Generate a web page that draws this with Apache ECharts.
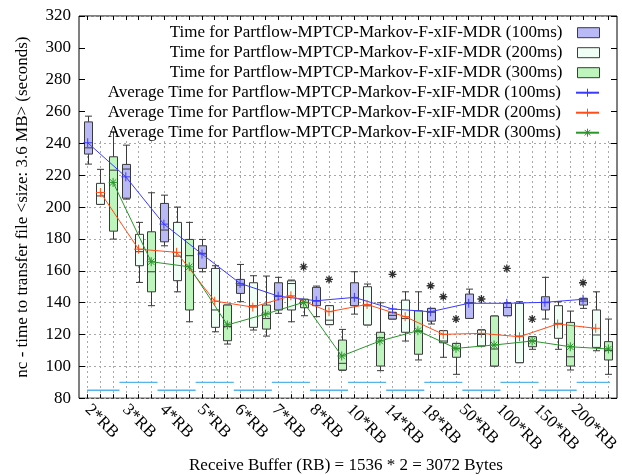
<!DOCTYPE html>
<html>
<head>
<meta charset="utf-8">
<script src="https://cdn.jsdelivr.net/npm/echarts@6/dist/echarts.min.js"></script>
<style>
  html, body { margin: 0; padding: 0; background: #fff; }
  #chart { width: 622px; height: 475px; }
</style>
</head>
<body>
<div id="chart"></div>
<script>
// Receive-buffer multiples, one group of three runs per multiple
const groups = ['2*RB', '3*RB', '4*RB', '5*RB', '6*RB', '7*RB', '8*RB', '10*RB', '14*RB', '18*RB', '50*RB', '100*RB', '150*RB', '200*RB'];

const boxNames = [
  'Time for Partflow-MPTCP-Markov-F-xIF-MDR (100ms)',
  'Time for Partflow-MPTCP-Markov-F-xIF-MDR (200ms)',
  'Time for Partflow-MPTCP-Markov-F-xIF-MDR (300ms)'
];
const meanNames = [
  'Average Time for Partflow-MPTCP-Markov-F-xIF-MDR (100ms)',
  'Average Time for Partflow-MPTCP-Markov-F-xIF-MDR (200ms)',
  'Average Time for Partflow-MPTCP-Markov-F-xIF-MDR (300ms)'
];

// Box statistics per group: [min, Q1, median, Q3, max] (seconds)
const box100 = [
  [227.0, 233.3, 237.2, 253.5, 257.1],
  [205.0, 205.6, 223.9, 226.8, 238.9],
  [175.7, 178.2, 185.6, 202.3, 207.5],
  [159.4, 161.5, 171.0, 175.7, 179.7],
  [140.6, 145.8, 151.0, 154.6, 164.0],
  [133.3, 135.4, 144.0, 152.5, 155.9],
  [131.2, 138.1, 141.0, 149.6, 150.4],
  [132.8, 138.1, 143.0, 152.5, 159.4],
  [129.7, 129.7, 132.0, 133.9, 133.9],
  [126.6, 128.4, 134.0, 136.4, 136.4],
  [130.1, 130.1, 140.0, 145.4, 148.5],
  [131.8, 131.8, 137.0, 139.6, 140.0],
  [129.7, 135.4, 140.0, 143.7, 155.9],
  [136.4, 138.5, 141.0, 142.7, 142.7]
];
const box200 = [
  [201.7, 201.7, 207.0, 214.9, 223.7],
  [152.7, 163.2, 172.0, 182.9, 190.4],
  [146.8, 153.8, 169.2, 190.4, 200.0],
  [121.7, 124.5, 135.4, 161.5, 163.2],
  [122.8, 124.5, 138.0, 152.5, 156.9],
  [128.0, 135.4, 152.0, 153.7, 154.2],
  [126.2, 126.2, 129.0, 138.1, 138.1],
  [126.0, 126.0, 138.0, 150.0, 151.7],
  [115.9, 121.4, 130.0, 141.6, 146.8],
  [105.7, 114.8, 115.9, 122.4, 122.4],
  [112.8, 112.8, 120.0, 122.8, 123.0],
  [102.3, 102.3, 119.0, 139.6, 140.6],
  [110.7, 117.6, 127.0, 138.1, 140.6],
  [109.8, 111.9, 119.7, 135.4, 146.8]
];
const box300 = [
  [179.9, 184.9, 223.2, 231.6, 247.3],
  [138.1, 146.8, 159.4, 184.5, 209.0],
  [128.0, 135.4, 169.5, 179.7, 190.4],
  [114.0, 116.1, 125.0, 138.5, 138.5],
  [119.0, 123.4, 130.0, 138.5, 156.7],
  [131.8, 136.8, 140.0, 142.1, 142.1],
  [97.5, 97.7, 101.9, 116.5, 123.2],
  [97.3, 100.2, 118.0, 121.4, 139.9],
  [104.0, 107.6, 122.0, 134.9, 146.8],
  [95.0, 105.7, 111.0, 114.4, 114.4],
  [100.2, 100.2, 110.9, 131.6, 131.6],
  [110.7, 112.3, 116.0, 118.6, 118.6],
  [97.7, 100.2, 106.0, 127.6, 134.7],
  [95.0, 104.0, 110.0, 115.5, 129.7]
];

// Average transfer time per group (seconds)
const mean100 = [240.4, 219.0, 189.3, 170.5, 152.1, 144.1, 141.2, 143.3, 136.0, 134.3, 139.6, 139.6, 140.2, 142.1];
const mean200 = [209.2, 173.6, 171.6, 141.0, 137.2, 144.3, 134.3, 138.9, 131.2, 120.1, 120.7, 118.6, 126.6, 123.9];
const mean300 = [215.5, 165.7, 162.5, 126.0, 132.8, 140.2, 106.5, 115.9, 122.4, 111.3, 113.4, 115.9, 112.3, 110.9];

// Outliers: [group index, run index (0=100ms, 1=200ms, 2=300ms), seconds]
const outliers = [
  [5, 2, 162.5], [6, 1, 154.6], [8, 0, 157.8], [9, 0, 150.6], [9, 1, 143.7],
  [9, 2, 129.7], [10, 1, 142.3], [11, 0, 161.5], [11, 2, 129.7], [13, 0, 152.5]
];

// Group marker bars along the bottom, alternating height
const bandLevels = [85, 90, 85, 90, 85, 90, 85, 90, 85, 90, 85, 90, 85, 90];

const yMin = 80, yMax = 320, yStep = 20;

const yTitle = 'nc - time to transfer file <size: 3.6 MB> (seconds)';
const xTitle = 'Receive Buffer (RB) = 1536 * 2 = 3072 Bytes';

// ---------------------------------------------------------------
const FONT = 'Liberation Serif';
const FS = 17;
const boxFill = ['#b9b9f7', '#f0fff6', '#bdf5bd'];
const lineColor = ['#3a3aff', '#ff4d1a', '#2a962a'];
const edge = '#3a3a3a';
const plusPath = 'path://M0,5L10,5M5,0L5,10';
const starPath = 'path://M0,5L10,5M5,0L5,10M1.5,1.5L8.5,8.5M8.5,1.5L1.5,8.5';

// run s of group g sits at slot 3g + s + 1 on the x scale
const slot = (g, s) => 3 * g + s + 1;
const slotCount = 3 * groups.length;

function renderBox(params, api) {
  const x = api.value(0);
  const lo = api.coord([x, api.value(1)]);
  const q1 = api.coord([x, api.value(2)]);
  const md = api.coord([x, api.value(3)]);
  const q3 = api.coord([x, api.value(4)]);
  const hi = api.coord([x, api.value(5)]);
  const cx = Math.round(lo[0]) + 0.5, hw = 4, cw = 3.5;
  const st = { stroke: edge, lineWidth: 1 };
  return {
    type: 'group',
    children: [
      { type: 'line', shape: { x1: cx, y1: hi[1], x2: cx, y2: q3[1] }, style: st },
      { type: 'line', shape: { x1: cx, y1: q1[1], x2: cx, y2: lo[1] }, style: st },
      { type: 'line', shape: { x1: cx - cw, y1: hi[1], x2: cx + cw, y2: hi[1] }, style: st },
      { type: 'line', shape: { x1: cx - cw, y1: lo[1], x2: cx + cw, y2: lo[1] }, style: st },
      { type: 'rect', shape: { x: cx - hw, y: q3[1], width: 2 * hw, height: q1[1] - q3[1] },
        style: { fill: api.visual('color'), stroke: edge, lineWidth: 1 } },
      { type: 'line', shape: { x1: cx - hw, y1: md[1], x2: cx + hw, y2: md[1] }, style: st }
    ]
  };
}

const boxSets = [box100, box200, box300];
const meanSets = [mean100, mean200, mean300];

const boxSeries = boxSets.map((set, s) => ({
  type: 'custom',
  name: boxNames[s],
  xAxisIndex: 0, yAxisIndex: 0,
  renderItem: renderBox,
  itemStyle: { color: boxFill[s] },
  encode: { x: 0, y: [1, 2, 3, 4, 5] },
  data: set.map((b, g) => [slot(g, s)].concat(b)),
  z: 2
}));

const meanSeries = meanSets.map((set, s) => ({
  type: 'line',
  name: meanNames[s],
  xAxisIndex: 0, yAxisIndex: 0,
  data: set.map((v, g) => [slot(g, s), v]),
  symbol: s === 2 ? starPath : plusPath,
  symbolSize: 9,
  showSymbol: true,
  lineStyle: { color: lineColor[s], width: 1 },
  itemStyle: { color: lineColor[s], borderColor: lineColor[s], borderWidth: 1 },
  clip: false,
  z: 4
}));

const outlierSeries = {
  type: 'scatter',
  name: 'outliers',
  xAxisIndex: 0, yAxisIndex: 0,
  data: outliers.map(o => [slot(o[0], o[1]), o[2]]),
  symbol: starPath,
  symbolSize: 8,
  itemStyle: { color: '#000', borderColor: '#000', borderWidth: 1.3 },
  z: 4
};

const bandData = [];
bandLevels.forEach((lv, g) => {
  bandData.push([slot(g, 0) - 0.5, lv], [slot(g, 2) + 0.5, lv], [slot(g, 2) + 0.5, null]);
});
const bandSeries = {
  type: 'line',
  name: 'bands',
  xAxisIndex: 0, yAxisIndex: 0,
  data: bandData,
  symbol: 'none',
  connectNulls: false,
  lineStyle: { color: '#56b4e9', width: 1.3 },
  clip: false,
  z: 2
};

const chart = echarts.init(document.getElementById('chart'), null, { renderer: 'canvas' });

const W = 622, H = 475;
const frameL = 79, frameR = 617, frameT = 16, frameB = 398.2;
const firstSlotX = 87.7, lastSlotX = 608.4;
const slotW = (lastSlotX - firstSlotX) / (slotCount - 1);
const lastLabelX = firstSlotX + slotW * slot(groups.length - 1, 0) - slotW;

const txt = { fontFamily: FONT, fontSize: FS, color: '#000' };
const hidden = { show: false };

chart.setOption({
  animation: false,
  backgroundColor: '#fff',
  grid: [
    // data grid: slot 1 .. slot 42
    { left: firstSlotX, right: W - lastSlotX, top: frameT, bottom: H - frameB },
    // frame
    { left: frameL, right: W - frameR, top: frameT, bottom: H - frameB,
      show: true, borderColor: '#000', borderWidth: 1, backgroundColor: 'transparent' },
    // group labels, one under the first run of each group
    { left: firstSlotX, right: W - lastLabelX, top: frameT, bottom: H - frameB }
  ],
  xAxis: [
    { gridIndex: 0, type: 'value', min: 1, max: slotCount, interval: 1, z: 3,
      axisLine: hidden, axisLabel: hidden, splitLine: hidden,
      axisTick: { show: true, inside: true, length: 4, lineStyle: { color: '#000' } } },
    { gridIndex: 0, type: 'value', position: 'top', min: 1, max: slotCount, interval: 1, z: 3,
      axisLine: hidden, axisLabel: hidden, splitLine: hidden,
      axisTick: { show: true, inside: true, length: 4, lineStyle: { color: '#000' } } },
    { gridIndex: 0, type: 'value', min: 1, max: slotCount, interval: 1, z: 0,
      axisLine: hidden, axisLabel: hidden, axisTick: hidden,
      splitLine: { show: true, lineStyle: { color: '#a8a8a8', type: [2, 3], width: 1 } } },
    { gridIndex: 1, type: 'value', min: 0, max: 1, show: false },
    { gridIndex: 2, type: 'category', data: groups, boundaryGap: false,
      axisLine: hidden, axisTick: hidden, splitLine: hidden,
      axisLabel: { show: true, interval: 0, rotate: -45, margin: 9, ...txt } }
  ],
  yAxis: [
    { gridIndex: 0, type: 'value', min: yMin, max: yMax, interval: yStep, show: false },
    { gridIndex: 1, type: 'value', min: yMin, max: yMax, interval: yStep, z: 3,
      axisLine: hidden, splitLine: hidden,
      axisTick: { show: true, inside: true, length: 6, lineStyle: { color: '#000' } },
      axisLabel: { show: true, margin: 8, ...txt },
      name: yTitle, nameLocation: 'middle', nameGap: 48, nameTextStyle: { ...txt } },
    { gridIndex: 1, type: 'value', position: 'right', min: yMin, max: yMax, interval: yStep, z: 3,
      axisLine: hidden, splitLine: hidden, axisLabel: hidden,
      axisTick: { show: true, inside: true, length: 6, lineStyle: { color: '#000' } } },
    { gridIndex: 1, type: 'value', min: yMin, max: yMax, interval: yStep, z: 0,
      axisLine: hidden, axisLabel: hidden, axisTick: hidden,
      splitLine: { show: true, lineStyle: { color: '#a8a8a8', type: [2, 3], width: 1 } } },
    { gridIndex: 2, type: 'value', min: 0, max: 1, show: false }
  ],
  legend: [
    { orient: 'vertical', right: W - 605, top: 17.7, align: 'right',
      itemWidth: 22, itemHeight: 10, itemGap: 0,
      textStyle: { ...txt, lineHeight: 20, padding: [0, 10, 0, 0] },
      data: boxNames.map((n, s) => ({ name: n, icon: 'rect',
        itemStyle: { color: boxFill[s], borderColor: edge, borderWidth: 1 } })) },
    { orient: 'vertical', right: W - 605, top: 77.7, align: 'right',
      itemWidth: 23, itemHeight: 10, itemGap: 0,
      textStyle: { ...txt, lineHeight: 20, padding: [0, 10, 0, 0] },
      data: meanNames.map((n, s) => ({ name: n,
        itemStyle: { color: lineColor[s], borderColor: lineColor[s], borderWidth: 1 } })) }
  ],
  graphic: [
    { type: 'rect', z: 1, silent: true,
      shape: { x: frameL + 1, y: frameT + 1, width: frameR - frameL - 2, height: 124 },
      style: { fill: '#fff' } },
    { type: 'text', x: (frameL + frameR) / 2 - 2, y: 466, silent: true,
      style: { text: xTitle, font: FS + 'px "' + FONT + '"', fill: '#000',
        textAlign: 'center', align: 'center', textVerticalAlign: 'middle', verticalAlign: 'middle' } }
  ],
  series: [bandSeries].concat(boxSeries, meanSeries, [outlierSeries])
});
</script>
</body>
</html>
